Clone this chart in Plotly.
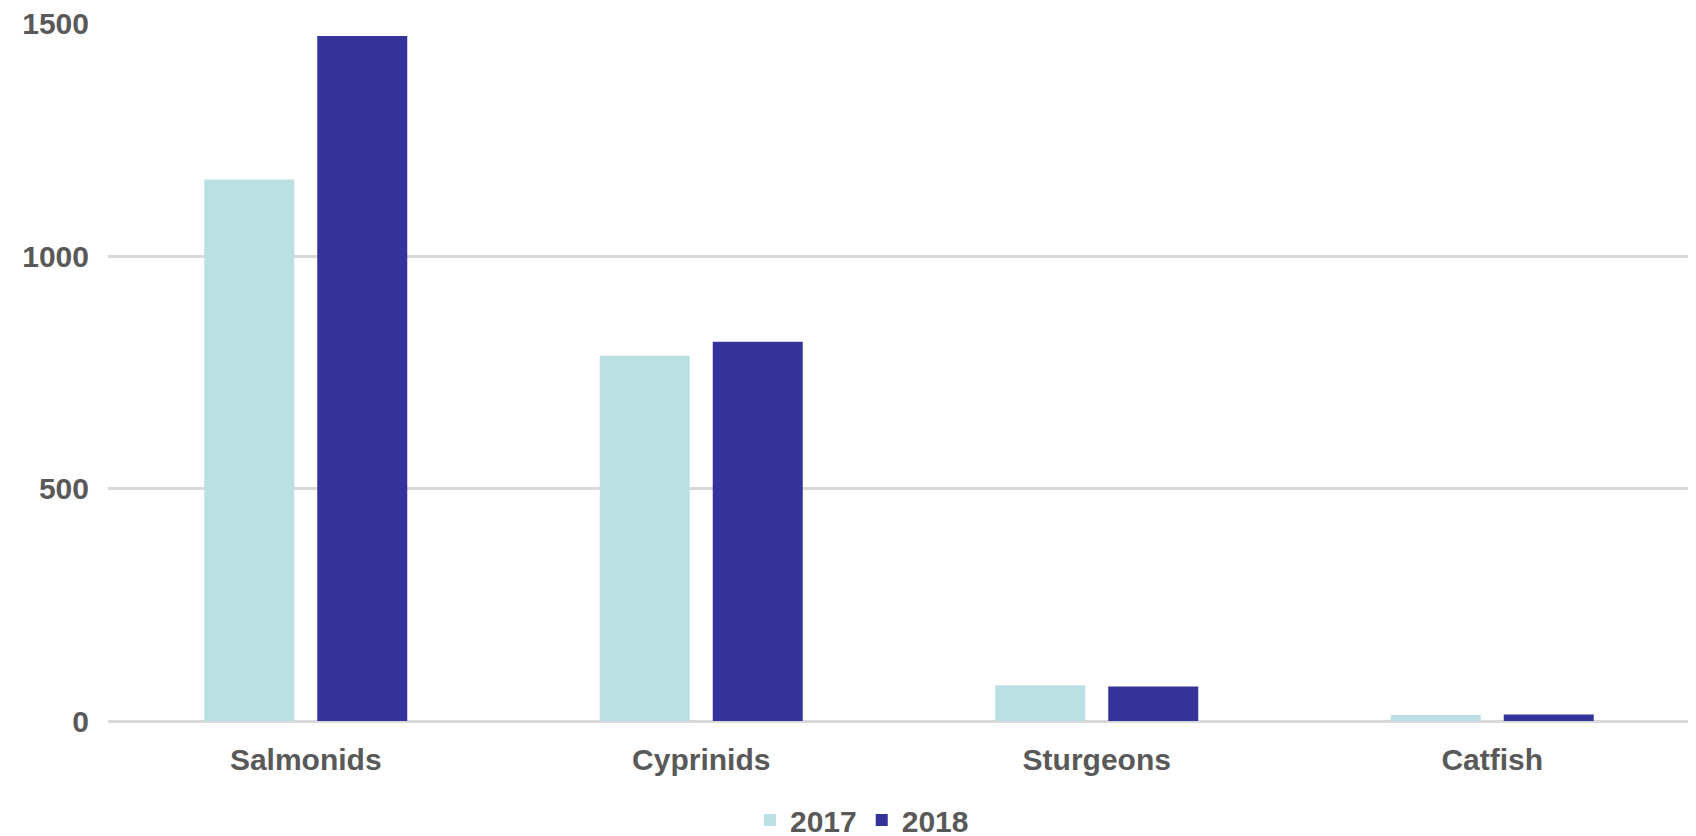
import plotly.graph_objects as go

categories = ["Salmonids", "Cyprinids", "Sturgeons", "Catfish"]
values_2017 = [1165, 786, 77, 13]
values_2018 = [1474, 816, 74, 14]
series_names = ["2017", "2018"]
tick_values = [0, 500, 1000, 1500]

FONT = "Liberation Sans, Arial, sans-serif"
GRAY = "#595959"

fig = go.Figure()
fig.add_trace(go.Bar(x=categories, y=values_2017, name=series_names[0],
                     marker=dict(color="#BBE0E3", line=dict(width=0))))
fig.add_trace(go.Bar(x=categories, y=values_2018, name=series_names[1],
                     marker=dict(color="#333399", line=dict(width=0))))

fig.update_layout(
    width=1696, height=836,
    margin=dict(l=100, r=14, t=15, b=123, autoexpand=False),
    paper_bgcolor="white", plot_bgcolor="white",
    barmode="group", bargap=0.4286, bargroupgap=0.2035,
    font=dict(family=FONT, size=30, color=GRAY, weight="bold"),
    legend=dict(orientation="h", x=0.4766, xanchor="center",
                yref="container", y=0.0287, yanchor="middle",
                font=dict(family=FONT, size=30, color=GRAY, weight="bold"),
                itemwidth=30, traceorder="normal"),
    showlegend=True,
)
fig.update_yaxes(range=[0, 1502], tickvals=tick_values, showgrid=True,
                 gridcolor="#D9D9D9", gridwidth=2.5, zeroline=True,
                 zerolinecolor="#D9D9D9", zerolinewidth=2.5, automargin=False,
                 showline=False, ticks="", ticklabelstandoff=18,
                 ticklabeloverflow="allow",
                 tickfont=dict(family=FONT, size=30, color=GRAY, weight="bold"))
fig.update_xaxes(showgrid=False, showline=False, ticks="", ticklabelstandoff=18,
                 automargin=False,
                 tickfont=dict(family=FONT, size=30, color=GRAY, weight="bold"))

fig.write_html("out.html")
